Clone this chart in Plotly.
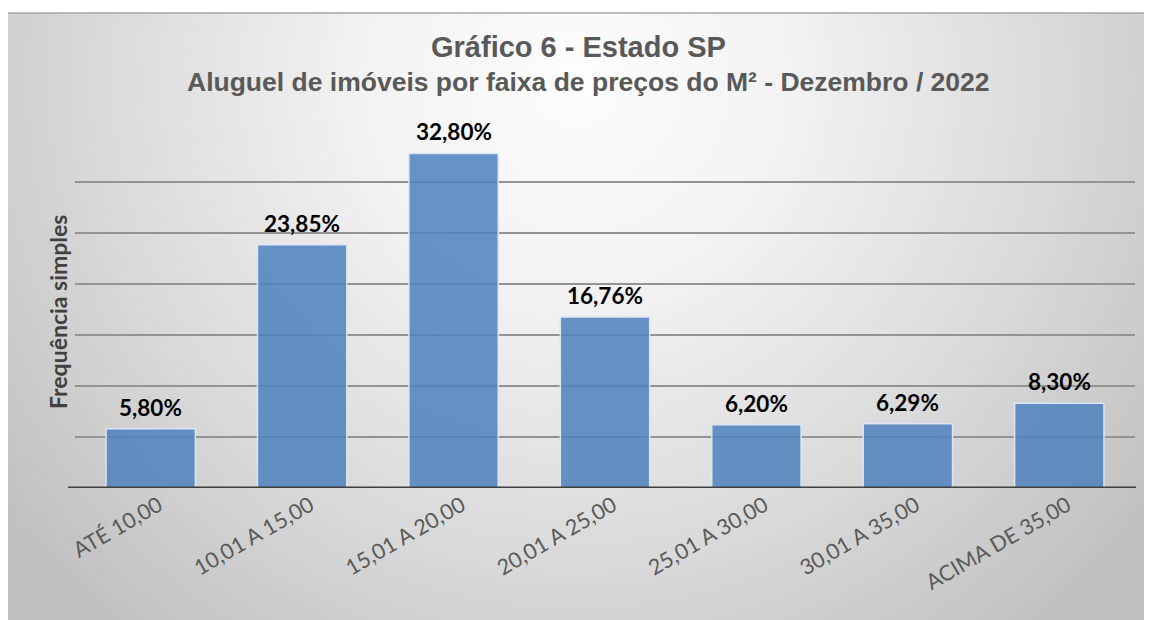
import base64
import plotly.graph_objects as go

categories = ["ATÉ 10,00", "10,01 A 15,00", "15,01 A 20,00", "20,01 A 25,00",
              "25,01 A 30,00", "30,01 A 35,00", "ACIMA DE 35,00"]
values = [5.80, 23.85, 32.80, 16.76, 6.20, 6.29, 8.30]
labels = [f"{v:.2f}".replace(".", ",") + "%" for v in values]

title_line1 = "Gráfico 6 - Estado SP"
title_line2 = "Aluguel de imóveis por faixa de preços do M² - Dezembro / 2022"
y_title = "Frequência simples"

OFF = 8  # browser body margin
W, H = 1152 - OFF, 620 - OFF
# plot area in screen pixels
SX0, SX1, SY0, SY1 = 75, 1135, 131, 488
ML, MR, MT, MB = SX0 - OFF, 1152 - SX1, SY0 - OFF, 620 - SY1
PW, PH = W - ML - MR, H - MT - MB

def px_x(px):
    return (px - SX0) / PW

def px_y(py):
    return (SY1 - py) / PH

# radial gradient background (chart area), screen coords
fx0, fy0, fx1, fy1 = 7, 13, 1152, 620
gw, gh = fx1 - fx0, fy1 - fy0
svg = f"""<svg xmlns='http://www.w3.org/2000/svg' width='{gw}' height='{gh}' viewBox='0 0 {gw} {gh}'>
<defs><radialGradient id='g' gradientUnits='userSpaceOnUse' cx='{576-fx0}' cy='{80-fy0}' r='730'>
<stop offset='0' stop-color='#fdfdfd'/>
<stop offset='0.3' stop-color='#f2f2f2'/>
<stop offset='0.65' stop-color='#dadada'/>
<stop offset='1' stop-color='#bfbfbf'/>
</radialGradient></defs>
<rect x='0' y='0' width='{gw}' height='{gh}' fill='url(#g)'/>
</svg>"""
src = "data:image/svg+xml;base64," + base64.b64encode(svg.encode()).decode()

fig = go.Figure()
fig.add_trace(go.Bar(
    x=categories, y=values,
    marker=dict(color="rgba(79,129,189,0.86)", line=dict(color="#dbe5f3", width=1.5)),
    hoverinfo="x+y",
))

annotations = []
for c, v, t in zip(categories, values, labels):
    annotations.append(dict(x=c, y=v, xref="x", yref="y", text=f"<b>{t}</b>", showarrow=False,
                            yanchor="bottom", yshift=6,
                            font=dict(family="Lato", size=22.5, color="#000000")))
annotations.append(dict(x=px_x(578), y=px_y(47), xref="paper", yref="paper",
                        text=f"<b>{title_line1}</b>", showarrow=False,
                        xanchor="center", yanchor="middle",
                        font=dict(family="Liberation Sans, Arial", size=29, color="#595959")))
annotations.append(dict(x=px_x(588), y=px_y(82), xref="paper", yref="paper",
                        text=f"<b>{title_line2}</b>", showarrow=False,
                        xanchor="center", yanchor="middle",
                        font=dict(family="Liberation Sans, Arial", size=26.5, color="#595959")))
annotations.append(dict(x=px_x(58), y=px_y(312), xref="paper", yref="paper",
                        text=f"<b>{y_title}</b>", showarrow=False, textangle=-90,
                        xanchor="center", yanchor="middle",
                        font=dict(family="Lato", size=23, color="#404040")))

fig.update_layout(
    width=W, height=H,
    margin=dict(l=ML, r=MR, t=MT, b=MB, pad=0),
    paper_bgcolor="#ffffff",
    plot_bgcolor="rgba(0,0,0,0)",
    showlegend=False,
    bargap=0.41,
    annotations=annotations,
    images=[dict(source=src, xref="paper", yref="paper",
                 x=px_x(fx0), y=px_y(fy0), sizex=gw / PW, sizey=gh / PH,
                 xanchor="left", yanchor="top", sizing="stretch", layer="below")],
    shapes=[
        dict(type="line", xref="paper", yref="paper", x0=px_x(fx0), x1=px_x(fx1),
             y0=px_y(fy0), y1=px_y(fy0), line=dict(color="#a6a6a6", width=1.5)),
        dict(type="line", xref="paper", yref="y", x0=px_x(68), x1=px_x(1136),
             y0=0, y1=0, line=dict(color="#3f3f3f", width=3), layer="above"),
    ],
    xaxis=dict(showline=False, ticks="", tickangle=-30,
               tickfont=dict(family="Lato", size=21.5, color="#595959"),
               ticklabelshift=8,
               showgrid=False, zeroline=False),
    yaxis=dict(range=[0, 35], dtick=5, showticklabels=False, ticks="",
               showgrid=True, gridcolor="#939393", gridwidth=1.5,
               zeroline=False, showline=False),
)

fig.write_html("out.html")
